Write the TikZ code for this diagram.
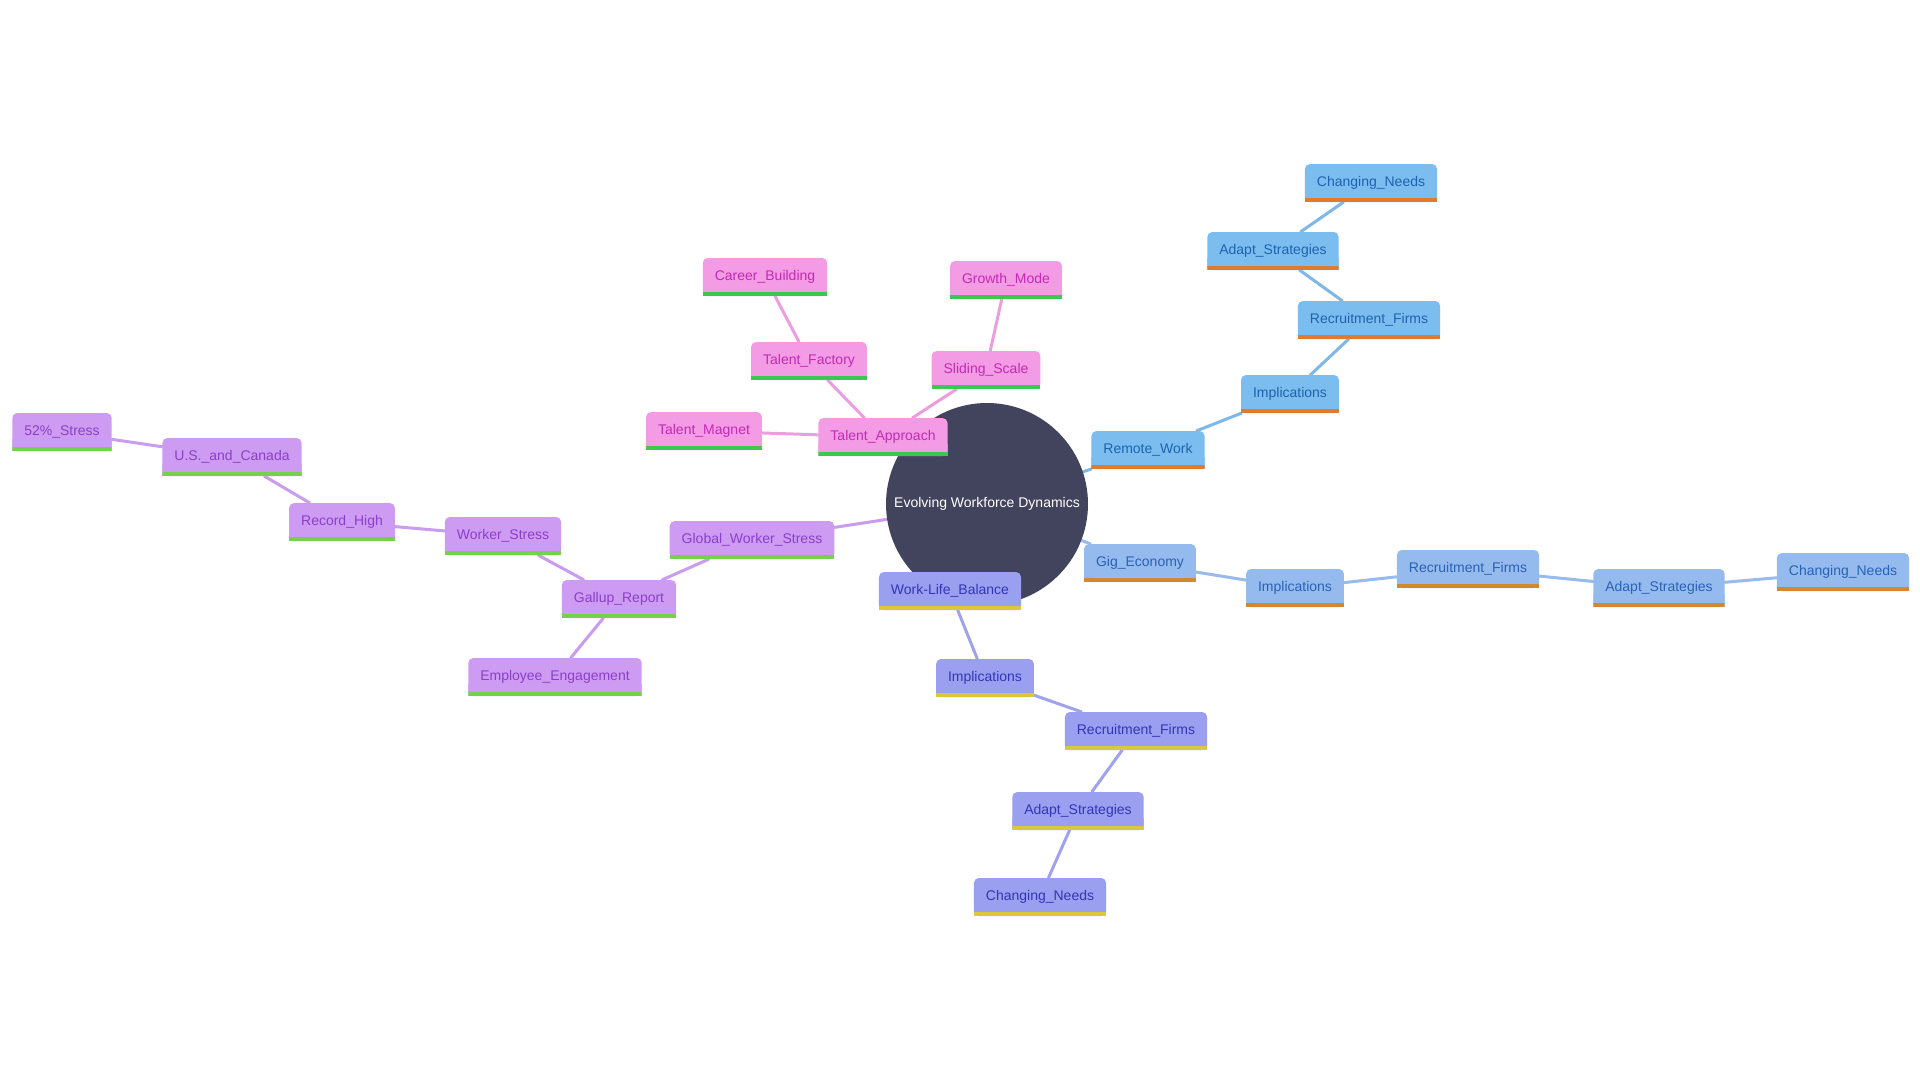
\documentclass[tikz,border=0pt]{standalone}
\usepackage{fontspec}
\usetikzlibrary{backgrounds}
\newfontfamily\mmfont{Liberation Sans}
\definecolor{rootfill}{HTML}{41445C}
\definecolor{pinkfill}{HTML}{F39BE4}
\definecolor{pinktext}{HTML}{C42AB4}
\definecolor{pinkline}{HTML}{3CC850}
\definecolor{pinkedge}{HTML}{EC9DE0}
\definecolor{purpfill}{HTML}{CE9BF2}
\definecolor{purptext}{HTML}{8B3FCB}
\definecolor{purpline}{HTML}{76D14A}
\definecolor{purpedge}{HTML}{C99CEF}
\definecolor{skyfill}{HTML}{7CBDF0}
\definecolor{skytext}{HTML}{1F63B0}
\definecolor{skyline}{HTML}{E07B2E}
\definecolor{skyedge}{HTML}{7DB8E8}
\definecolor{bluefill}{HTML}{95BBEE}
\definecolor{bluetext}{HTML}{2A62B5}
\definecolor{blueline}{HTML}{D4882E}
\definecolor{blueedge}{HTML}{97BBEC}
\definecolor{indfill}{HTML}{9A9FF0}
\definecolor{indtext}{HTML}{3535B8}
\definecolor{indline}{HTML}{D8C83A}
\definecolor{indedge}{HTML}{9FA3EE}
\tikzset{
  mmbox/.style n args={3}{rectangle, minimum height=38pt, inner xsep=12pt, inner ysep=0pt,
    text=#2, font=\mmfont\fontsize{14}{16}\selectfont,
    path picture={
      \fill[#1, rounded corners=5pt] (path picture bounding box.south west) rectangle (path picture bounding box.north east);
      \fill[#1] (path picture bounding box.south west) rectangle ([yshift=12pt]path picture bounding box.south east);
      \fill[#3] (path picture bounding box.south west) rectangle ([yshift=4pt]path picture bounding box.south east);
    }},
  pinkbox/.style={mmbox={pinkfill}{pinktext}{pinkline}},
  purpbox/.style={mmbox={purpfill}{purptext}{purpline}},
  skybox/.style={mmbox={skyfill}{skytext}{skyline}},
  bluebox/.style={mmbox={bluefill}{bluetext}{blueline}},
  indbox/.style={mmbox={indfill}{indtext}{indline}},
  link/.style={line width=3pt, line cap=round}
}
\begin{document}
\begin{tikzpicture}[x=1pt, y=-1pt]
    \useasboundingbox (0, 0) rectangle (1920, 1080);
    % centre
    \node[circle, fill=rootfill, minimum size=202pt, inner sep=0pt, text=white,
      font=\mmfont\fontsize{14}{16}\selectfont] (root) at (987, 504) {Evolving Workforce Dynamics};
    % remote work branch
    \node[skybox] (rw) at (1148, 450) {Remote\_Work};
    \node[skybox] (rwImpl) at (1290, 394) {Implications};
    \node[skybox] (rwRec) at (1369, 320) {Recruitment\_Firms};
    \node[skybox] (rwAdapt) at (1273, 251) {Adapt\_Strategies};
    \node[skybox] (rwNeeds) at (1371, 183) {Changing\_Needs};
    % gig economy branch
    \node[bluebox] (ge) at (1140, 563) {Gig\_Economy};
    \node[bluebox] (geImpl) at (1295, 588) {Implications};
    \node[bluebox] (geRec) at (1468, 569) {Recruitment\_Firms};
    \node[bluebox] (geAdapt) at (1659, 588) {Adapt\_Strategies};
    \node[bluebox] (geNeeds) at (1843, 572) {Changing\_Needs};
    % work-life balance branch
    \node[indbox] (wl) at (950, 591) {Work-Life\_Balance};
    \node[indbox] (wlImpl) at (985, 678) {Implications};
    \node[indbox] (wlRec) at (1136, 731) {Recruitment\_Firms};
    \node[indbox] (wlAdapt) at (1078, 811) {Adapt\_Strategies};
    \node[indbox] (wlNeeds) at (1040, 897) {Changing\_Needs};
    % talent branch
    \node[pinkbox] (ta) at (883, 437) {Talent\_Approach};
    \node[pinkbox] (tf) at (809, 361) {Talent\_Factory};
    \node[pinkbox] (cb) at (765, 277) {Career\_Building};
    \node[pinkbox] (tm) at (704, 431) {Talent\_Magnet};
    \node[pinkbox] (ss) at (986, 370) {Sliding\_Scale};
    \node[pinkbox] (gm) at (1006, 280) {Growth\_Mode};
    % stress branch
    \node[purpbox] (gws) at (752, 540) {Global\_Worker\_Stress};
    \node[purpbox] (gr) at (619, 599) {Gallup\_Report};
    \node[purpbox] (ee) at (555, 677) {Employee\_Engagement};
    \node[purpbox] (ws) at (503, 536) {Worker\_Stress};
    \node[purpbox] (rh) at (342, 522) {Record\_High};
    \node[purpbox] (us) at (232, 457) {U.S.\_and\_Canada};
    \node[purpbox] (st) at (62, 432) {52\%\_Stress};
    \begin{scope}[on background layer]
      \fill[white] (0, 0) rectangle (1920, 1080);
      \draw[link, skyedge] (root) -- (rw) -- (rwImpl) -- (rwRec) -- (rwAdapt) -- (rwNeeds);
      \draw[link, blueedge] (root) -- (ge) -- (geImpl) -- (geRec) -- (geAdapt) -- (geNeeds);
      \draw[link, indedge] (root) -- (wl) -- (wlImpl) -- (wlRec) -- (wlAdapt) -- (wlNeeds);
      \draw[link, pinkedge] (root) -- (ta) -- (tf) -- (cb);
      \draw[link, pinkedge] (ta) -- (tm);
      \draw[link, pinkedge] (ta) -- (ss) -- (gm);
      \draw[link, purpedge] (root) -- (gws) -- (gr) -- (ee);
      \draw[link, purpedge] (gr) -- (ws) -- (rh) -- (us) -- (st);
    \end{scope}
\end{tikzpicture}
\end{document}
